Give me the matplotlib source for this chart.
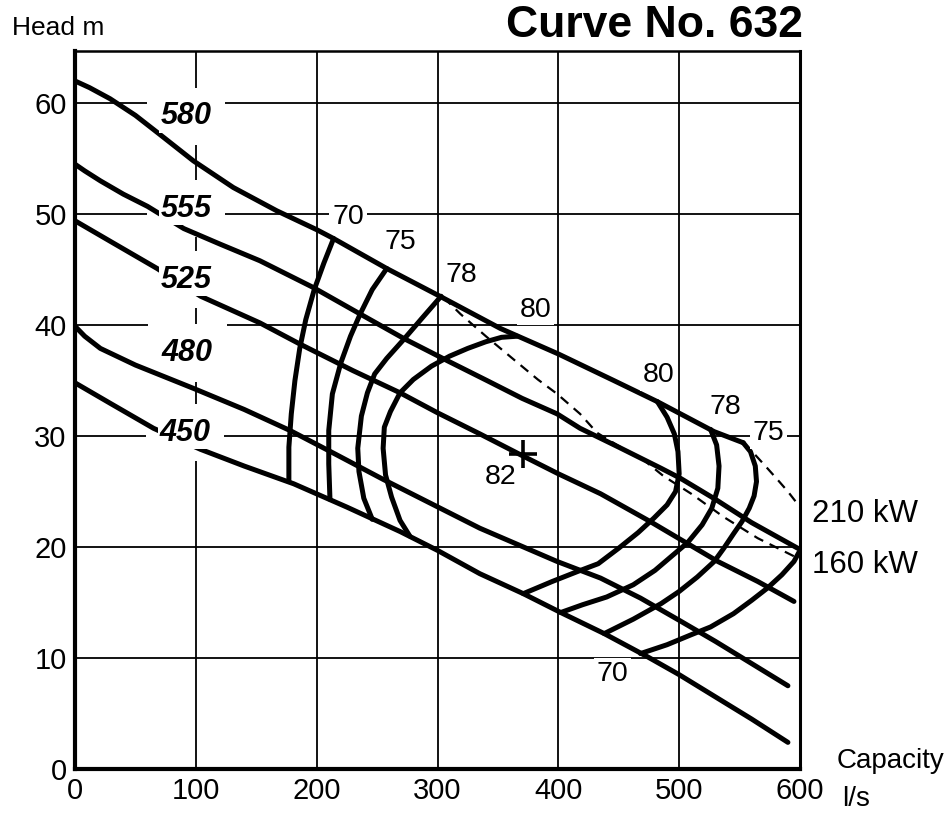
import matplotlib
matplotlib.use("Agg")
import matplotlib.pyplot as plt

plt.rcParams['font.family'] = ['Liberation Sans', 'DejaVu Sans']

# ---- Head / capacity curves for each impeller speed (Q in l/s, H in m) ----
q_580 = [0, 12, 29, 50, 70, 98, 131, 167, 200, 214, 258, 302, 352, 400, 446, 482, 529, 553]
h_580 = [62.0, 61.4, 60.4, 58.9, 57.2, 54.8, 52.4, 50.3, 48.6, 47.8, 45.1, 42.6, 39.7, 37.4, 35.0, 33.1, 30.4, 29.4]

q_555 = [0, 8, 21, 40, 60, 90, 120, 153, 197, 236, 272, 308, 341, 370, 399, 418, 450, 485, 501, 530, 560, 598]
h_555 = [54.5, 53.9, 53.0, 51.8, 50.7, 48.7, 47.3, 45.8, 43.4, 41.0, 38.8, 36.8, 35.0, 33.4, 32.0, 30.7, 29.0, 27.1, 26.2, 24.3, 22.2, 19.9]

q_525 = [0, 30, 68, 104, 153, 186, 230, 269, 300, 335, 369, 400, 435, 476, 532, 565, 595]
h_525 = [49.4, 47.5, 45.1, 42.6, 40.2, 38.3, 35.9, 33.9, 32.1, 30.2, 28.3, 26.6, 24.8, 22.3, 18.7, 16.9, 15.1]

q_480 = [0, 8, 21, 50, 98, 140, 178, 215, 255, 295, 335, 399, 435, 468, 500, 530, 560, 590]
h_480 = [39.9, 39.0, 37.9, 36.4, 34.3, 32.4, 30.5, 28.4, 26.1, 23.9, 21.7, 18.7, 17.2, 15.4, 13.4, 11.5, 9.5, 7.5]

q_450 = [0, 30, 65, 104, 140, 181, 225, 269, 300, 335, 371, 402, 438, 474, 500, 530, 560, 590]
h_450 = [34.8, 32.9, 30.7, 28.8, 27.3, 25.7, 23.6, 21.4, 19.7, 17.6, 15.8, 14.1, 12.2, 10.1, 8.5, 6.5, 4.5, 2.4]

speed_labels = ['580', '555', '525', '480', '450']

# ---- Efficiency contours (%), left and right branches ----
eff_70_left_q = [177, 177, 179, 182, 186, 191, 198, 206, 214]
eff_70_left_h = [25.9, 29.0, 32.0, 35.0, 37.9, 40.5, 43.2, 45.6, 47.8]
eff_70_right_q = [468, 490, 510, 526, 545, 560, 573, 585, 595, 600]
eff_70_right_h = [10.4, 11.2, 12.1, 12.8, 14.0, 15.2, 16.3, 17.5, 18.7, 19.7]

eff_75_left_q = [211, 210, 210, 213, 220, 228, 236, 246, 258]
eff_75_left_h = [24.3, 27.5, 30.5, 33.8, 36.6, 39.0, 41.0, 43.2, 45.1]
eff_75_right_q = [553, 559, 563, 564, 562, 558, 552, 545, 537, 529, 515, 500, 485, 462, 438]
eff_75_right_h = [29.4, 28.6, 27.3, 25.9, 24.6, 23.5, 22.3, 21.2, 19.9, 18.7, 17.3, 16.0, 14.9, 13.5, 12.2]

eff_78_left_q = [246, 239, 235, 234, 237, 242, 248, 258, 272, 287, 303]
eff_78_left_h = [22.5, 24.4, 26.8, 28.9, 31.8, 33.9, 35.6, 37.0, 38.7, 40.6, 42.6]
eff_78_right_q = [526, 531, 533, 532, 527, 519, 507, 494, 480, 462, 440, 420, 402]
eff_78_right_h = [30.6, 29.2, 27.3, 25.3, 23.5, 22.0, 20.4, 19.2, 17.9, 16.6, 15.5, 14.8, 14.1]

eff_80_left_q = [277, 269, 262, 257, 255, 256, 261, 269, 280, 295, 310, 325, 340, 353, 366]
eff_80_left_h = [21.0, 22.4, 24.5, 26.5, 28.9, 30.8, 32.2, 33.9, 35.1, 36.3, 37.2, 37.9, 38.5, 38.9, 39.0]
eff_80_right_q = [482, 490, 496, 499, 500, 497, 490, 479, 466, 450, 433, 416, 395, 371]
eff_80_right_h = [33.1, 31.7, 30.2, 28.6, 26.6, 25.0, 23.8, 22.6, 21.3, 19.9, 18.5, 17.8, 16.9, 15.8]

# Best efficiency point (82 %)
bep_q = 371
bep_h = 28.4

# ---- Motor power limit lines ----
p160_q = [305, 319, 340, 362, 383, 399, 418, 432, 450, 470, 487, 510, 537, 565, 600]
p160_h = [42.5, 41.0, 39.0, 37.0, 35.1, 33.8, 32.0, 30.3, 29.1, 27.9, 26.4, 24.8, 22.7, 20.8, 18.9]
p210_q = [553, 563, 573, 582, 590, 600]
p210_h = [29.4, 28.3, 27.1, 26.0, 25.0, 23.6]

x_ticks = [0, 100, 200, 300, 400, 500, 600]
y_ticks = [0, 10, 20, 30, 40, 50, 60]

# ---------------------------------------------------------------------------
W, H = 947, 814
fig = plt.figure(figsize=(W / 100, H / 100), dpi=100)
ax = fig.add_axes([75 / W, 1 - 769 / H, (800 - 75) / W, (769 - 51) / H])
ax.set_xlim(0, 600)
ax.set_ylim(0, 64.7)

ax.set_xticks(x_ticks)
ax.set_yticks(y_ticks)
ax.set_xticklabels([str(v) for v in x_ticks])
ax.set_yticklabels([str(v) for v in y_ticks])
ax.tick_params(length=0, labelsize=21, pad=6)
ax.grid(True, color='black', lw=1.3, zorder=1)
ax.set_axisbelow(True)
for side, lw in (('left', 3.0), ('bottom', 3.0), ('top', 1.8), ('right', 2.2)):
    ax.spines[side].set_linewidth(lw)
    ax.spines[side].set_zorder(6)

curve_kw = dict(color='black', lw=3.6, solid_capstyle='round', solid_joinstyle='round', zorder=3)

speed_q = [q_580, q_555, q_525, q_480, q_450]
speed_h = [h_580, h_555, h_525, h_480, h_450]
for q, h in zip(speed_q, speed_h):
    ax.plot(q, h, **curve_kw)

eff_branches = [
    (eff_70_left_q, eff_70_left_h), (eff_70_right_q, eff_70_right_h),
    (eff_75_left_q, eff_75_left_h), (eff_75_right_q, eff_75_right_h),
    (eff_78_left_q, eff_78_left_h), (eff_78_right_q, eff_78_right_h),
    (eff_80_left_q, eff_80_left_h), (eff_80_right_q, eff_80_right_h),
]
for q, h in eff_branches:
    ax.plot(q, h, **curve_kw)

dash_kw = dict(color='black', lw=1.6, dashes=(4.5, 3.2), zorder=2.5)
ax.plot(p160_q, p160_h, **dash_kw)
ax.plot(p210_q, p210_h, **dash_kw)

ax.plot([bep_q], [bep_h], marker='+', ms=20, mew=2.6, color='black', zorder=4)

# Speed labels: a wide white box clears the grid, a tight one breaks the curves
speed_label_pos = [(92, 58.8), (92, 50.5), (92, 44.1), (93, 37.5), (91, 30.3)]
for text, (x, y) in zip(speed_labels, speed_label_pos):
    ax.text(x, y, text, fontsize=22, fontweight='bold', fontstyle='italic',
            ha='center', va='center', zorder=2, color='none',
            bbox=dict(boxstyle='square,pad=0.45', fc='white', ec='none'))
    ax.text(x, y, text, fontsize=22, fontweight='bold', fontstyle='italic',
            ha='center', va='center', zorder=5,
            bbox=dict(boxstyle='square,pad=0.05', fc='white', ec='none'))

# Efficiency labels
eff_label_pos = [
    ('70', 226, 49.7), ('75', 269, 47.5), ('78', 320, 44.5), ('80', 381, 41.4),
    ('80', 483, 35.5), ('78', 538.5, 32.6), ('75', 574, 30.3), ('82', 352, 26.3),
    ('70', 445, 8.6),
]
for text, x, y in eff_label_pos:
    ax.text(x, y, text, fontsize=20.5, ha='center', va='center', zorder=5,
            bbox=dict(boxstyle='square,pad=0.1', fc='white', ec='none'))

# Titles and axis captions
fig.text(12 / W, 1 - 35 / H, 'Head m', fontsize=19, ha='left', va='baseline')
fig.text(803 / W, 1 - 37 / H, 'Curve No. 632', fontsize=32, fontweight='bold',
         ha='right', va='baseline')
fig.text(837 / W, 1 - 768 / H, 'Capacity', fontsize=20, ha='left', va='baseline')
fig.text(842 / W, 1 - 806 / H, 'l/s', fontsize=20, ha='left', va='baseline')
fig.text(812 / W, 1 - 522 / H, '210 kW', fontsize=22.5, ha='left', va='baseline')
fig.text(812 / W, 1 - 573 / H, '160 kW', fontsize=22.5, ha='left', va='baseline')

fig.savefig('out.png', dpi=100, facecolor='white')
